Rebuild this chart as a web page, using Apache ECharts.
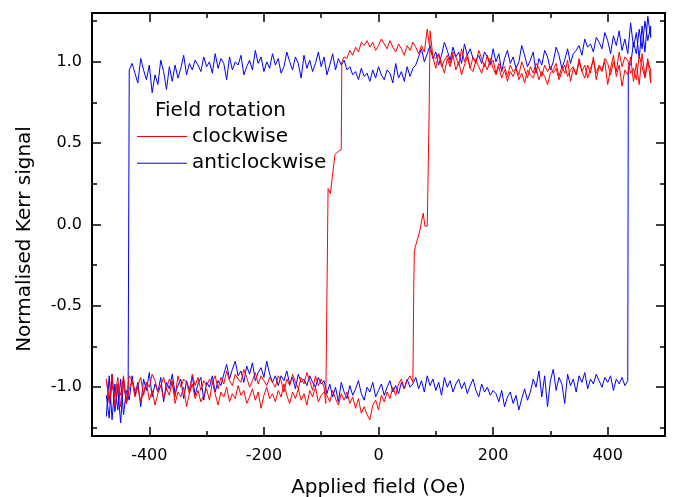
<!DOCTYPE html>
<html><head><meta charset="utf-8">
<script src="https://cdn.jsdelivr.net/npm/echarts@6/dist/echarts.min.js"></script>
<style>html,body{margin:0;padding:0;background:#fff}#c{width:673px;height:497px}</style>
</head><body><div id="c"></div>
<script>
// ---- Data ----
const fieldGrid = [
-475,-470,-465,-460,-455,-450,-445,-440,-435,-430,
-425,-420,-415,-410,-405,-400,-395,-390,-385,-380,
-375,-370,-365,-360,-355,-350,-345,-340,-335,-330,
-325,-320,-315,-310,-305,-300,-295,-290,-285,-280,
-275,-270,-265,-260,-255,-250,-245,-240,-235,-230,
-225,-220,-215,-210,-205,-200,-195,-190,-185,-180,
-175,-170,-165,-160,-155,-150,-145,-140,-135,-130,
-125,-120,-115,-110,-105,-100,-95,-90,-85,-80,
-75,-70,-65,-60,-55,-50,-45,-40,-35,-30,
-25,-20,-15,-10,-5,0,5,10,15,20,
25,30,35,40,45,50,55,60,65,70,
75,80,85,90,95,100,105,110,115,120,
125,130,135,140,145,150,155,160,165,170,
175,180,185,190,195,200,205,210,215,220,
225,230,235,240,245,250,255,260,265,270,
275,280,285,290,295,300,305,310,315,320,
325,330,335,340,345,350,355,360,365,370,
375,380,385,390,395,400,405,410,415,420,
425,430,435,440,445,450,455,460,465,470,
475];

// Anticlockwise (blue)
const blueLowerFwd = [ // field -475 -> 435
-1.18,-0.93,-1.20,-0.98,-1.14,-0.95,-1.17,-1.02,
-1.08,-0.93,-1.05,-0.97,-1.12,-0.95,-1.02,-0.91,-1.06,-0.98,-1.03,-0.94,-1.09,-0.97,-1.01,-0.92,-1.04,-0.99,-0.95,-1.07,-0.96,-1.02,-0.93,-1.05,-0.98,-0.94,-1.08,-0.97,-1.00,-0.93,-1.03,-0.96,-0.99,-0.92,
-0.86,-0.95,-0.89,-0.84,-0.93,-0.90,-0.97,-0.87,-0.92,-0.85,-0.96,-0.91,-0.88,-0.94,-0.84,-0.92,-0.97,-0.93,
-0.99,-0.93,-0.96,-0.90,-0.98,-0.94,-1.01,-0.92,-0.97,-0.95,-0.99,-0.93,-0.97,-1.00,-0.94,-0.98,-0.96,
-1.04,-0.98,-1.06,-1.00,-1.09,-0.97,-1.03,-1.07,-0.99,-1.05,-1.01,-0.96,-1.04,-1.08,-1.00,-1.03,-0.97,-1.06,-1.02,-0.98,-1.05,-1.00,-0.96,-1.03,-0.99,-1.04,-0.97,-1.01,-0.95,-1.00,
-0.98,-0.94,-1.01,-0.96,-1.03,-0.93,-0.99,-0.95,-1.02,-0.97,-1.05,-0.94,-1.00,-0.96,-1.03,-0.98,-0.95,-1.01,-0.97,-1.04,-0.99,-0.95,-1.02,-1.06,-0.98,-1.03,-1.00,-1.05,-1.02,
-1.04,-1.09,-1.02,-1.12,-1.06,-1.03,-1.10,-1.05,-1.14,-1.07,-1.01,-1.08,-1.03,
-0.95,-1.00,-0.90,-1.06,-0.93,-1.12,-0.96,-0.89,-1.02,-0.94,-0.98,-1.10,-0.92,-0.99,-0.95,-1.03,-0.93,-0.97,-0.91,-1.01,-0.95,-0.98,-0.92,-0.96,-1.00,-0.94,-0.97,-0.93,-1.02,-0.95,-0.98,-0.94,-0.99,-0.96];
const blueSwitchUpField = [436];
const blueSwitchUp = [0.97];
const blueUpperFwd = [0.98,1.12,1.05,1.20,1.08,1.25,1.13,1.22]; // field 440 -> 475
const blueUpperBack = [ // field 475 -> -435
1.15,1.28,1.06,1.22,1.02,1.18,1.09,1.24,1.05,
1.14,1.07,1.19,1.10,1.16,1.05,1.13,1.18,1.08,1.12,1.15,1.06,1.11,1.09,1.14,1.04,1.10,1.07,
1.05,0.99,1.08,1.01,0.96,1.04,1.09,1.00,0.95,1.03,1.07,0.98,1.02,0.93,1.06,1.01,0.97,1.04,1.10,1.00,0.96,1.03,0.99,1.07,1.02,0.94,1.05,1.00,1.08,0.98,1.03,1.06,0.99,1.04,1.01,
1.02,1.08,1.04,1.11,0.99,1.06,1.03,1.09,1.01,1.07,1.12,1.04,0.98,1.06,1.02,1.10,1.05,1.00,1.08,1.03,0.98,
0.96,0.91,0.97,0.88,0.94,0.90,0.99,0.87,0.93,0.95,0.89,0.92,0.97,
0.90,0.95,0.88,0.93,0.91,0.96,0.89,0.94,0.92,0.97,0.95,1.01,0.98,
1.02,0.95,1.05,0.98,0.92,1.03,0.97,1.06,0.99,0.94,1.01,0.96,1.04,0.90,0.99,1.03,0.95,1.00,1.06,0.97,
0.93,1.02,0.98,1.05,0.96,1.00,0.94,1.03,0.99,1.07,0.95,1.01,0.97,0.92,1.04,0.98,1.00,0.95,1.03,0.89,
0.99,1.02,0.96,1.05,0.93,1.00,0.97,1.03,0.94,0.98,1.01,0.95,0.99,0.92,1.04,0.96,0.90,0.98,
0.88,0.97,0.83,0.94,1.01,0.86,0.92,0.81,0.98,0.89,0.95,1.02,0.87,0.93,0.99,0.95];
const blueSwitchDownField = [-437];
const blueSwitchDown = [-1.05];
const blueLowerBack = [-1.10,-0.95,-1.22,-1.00,-1.15,-0.92,-1.19,-1.05]; // field -440 -> -475

// Clockwise (red)
const redLowerFwd = [ // field -475 -> 60
-0.95,-1.08,-0.92,-1.12,-0.98,-1.05,-0.93,-1.10,-1.01,-0.96,
-1.06,-1.00,-1.09,-1.03,-0.97,-1.08,-1.02,-1.11,-1.04,-0.99,
-1.07,-1.01,-1.05,-0.96,-1.10,-1.03,-1.06,-1.00,-1.12,-1.04,
-0.98,-1.07,-1.02,-1.09,-1.05,-1.01,-1.08,-0.97,-1.04,-1.11,
-1.03,-1.06,-1.00,-1.09,-1.04,-1.07,-0.99,-1.05,-1.02,-1.10,
-1.06,-1.01,-1.08,-1.03,-1.13,-1.05,-1.00,-1.07,-1.04,-1.09,
-1.02,-1.06,-0.98,-1.05,-1.10,-1.03,-1.07,-1.01,-1.08,-1.04,
-1.11,-1.02,-1.06,-1.00,-1.09,-1.05,-1.03,
-1.05,-1.09,-1.02,-1.07,-1.11,-1.04,-1.08,-1.03,-1.10,-1.06,
-1.13,-1.07,-1.16,-1.12,-1.17,-1.20,-1.11,-1.08,-1.14,-1.05,
-1.09,-1.03,-1.07,-1.00,-1.05,-0.98,-0.95,-1.01,-0.96,-0.93,-0.97];
const redSwitchUpField = [61.5,62.5,64,67,72,78,81,85,88,90];
const redSwitchUp = [-0.40,-0.17,-0.14,-0.13,-0.04,0.07,-0.01,-0.01,0.60,1.19];
const redUpperFwd = [ // field 95 -> 475
1.03,0.96,1.05,0.99,0.93,1.02,0.97,1.04,0.95,1.00,0.92,0.98,1.03,0.96,0.94,1.01,0.97,0.93,0.99,0.95,1.02,0.96,
0.92,0.97,0.90,0.95,0.88,0.94,0.91,0.96,0.89,0.93,0.87,0.95,0.92,0.90,0.96,0.89,0.94,0.91,0.86,0.93,
0.95,0.99,0.91,0.97,0.93,1.01,0.88,0.96,0.92,1.02,0.94,0.90,0.98,0.93,1.03,0.89,0.97,0.94,1.00,0.86,0.96,1.04,0.91,0.98,0.85,0.95,
0.92,1.03,0.88,0.99,0.86,1.05,0.91,1.02,0.87];
const redUpperBack = [ // field 475 -> -60
0.95,1.00,0.90,0.97,1.04,0.89,0.96,0.93,1.01,
1.03,0.97,1.06,0.94,1.00,0.92,0.99,1.02,0.95,0.98,0.93,1.01,0.96,0.90,0.98,0.94,1.00,0.92,0.97,0.95,0.91,0.98,0.94,0.89,0.96,0.93,0.97,
0.94,0.98,0.91,0.96,0.99,0.93,0.97,0.90,0.95,1.00,0.92,0.96,0.94,0.98,0.91,0.97,0.95,0.99,0.93,1.01,
0.98,1.04,0.97,1.02,1.07,0.99,1.03,0.96,1.05,1.00,1.08,0.98,1.03,1.06,0.99,1.04,1.01,0.97,1.05,1.02,
1.03,1.07,1.20,
1.06,1.10,1.05,1.09,1.12,1.07,1.10,1.04,1.08,1.11,
1.06,1.09,1.13,1.08,1.11,1.14,1.10,1.07,1.12,1.09,
1.13,1.10,1.12,1.06,1.09,1.04,1.07,1.02,1.03];
const redSwitchDownField = [-64,-65,-70,-76,-84,-88,-91,-92];
const redSwitchDown = [1.00,0.46,0.45,0.43,0.19,0.22,0.23,-1.10];
const redLowerBack = [ // field -95 -> -475
-1.00,-0.95,-0.99,-0.93,-1.02,-0.96,-0.91,-0.98,-0.94,-1.01,-0.97,-0.92,-0.99,-0.95,-1.03,-0.96,-0.93,-1.00,-0.97,-0.94,-0.99,-0.96,
-0.93,-0.98,-0.91,-0.96,-1.00,-0.94,-0.89,-0.97,-0.95,-0.92,-0.99,-0.96,-0.90,-0.98,-0.94,-1.01,-0.93,-0.97,-0.95,-0.99,
-0.96,-1.02,-0.94,-0.99,-0.92,-1.04,-0.97,-0.95,-1.00,-0.93,-1.06,-0.98,-0.95,-1.01,-0.94,-0.99,-1.03,-0.96,-0.92,-1.00,-0.97,-1.05,-0.94,-0.99,-1.02,-0.96,
-0.93,-1.08,-0.97,-1.12,-0.94,-1.06,-0.99,-1.10,-0.95];

const xMajorTicks = [-400,-200,0,200,400];
const xMinorTicks = [-300,-100,100,300];
const yMajorTicks = [-1,-0.5,0,0.5,1];
const yMinorTicks = [-1.25,-0.75,-0.25,0.25,0.75,1.25];

// ---- Build sweeps ----
function gridRun(startField, dir, values) {
  const i0 = fieldGrid.indexOf(startField);
  return values.map((v, i) => [fieldGrid[i0 + dir * i], v]);
}
function pairs(fields, values) { return values.map((v, i) => [fields[i], v]); }

const blueData = [].concat(
  gridRun(-475, 1, blueLowerFwd),
  pairs(blueSwitchUpField, blueSwitchUp),
  gridRun(440, 1, blueUpperFwd),
  gridRun(475, -1, blueUpperBack),
  pairs(blueSwitchDownField, blueSwitchDown),
  gridRun(-440, -1, blueLowerBack)
);
const redData = [].concat(
  gridRun(-475, 1, redLowerFwd),
  pairs(redSwitchUpField, redSwitchUp),
  gridRun(95, 1, redUpperFwd),
  gridRun(475, -1, redUpperBack),
  pairs(redSwitchDownField, redSwitchDown),
  gridRun(-95, -1, redLowerBack)
);

const FONT = 'DejaVu Sans';
const black = '#000';

function xAxisDef(pos, ticks, len, withLabels, withName) {
  return {
    type: 'value', position: pos, min: -500, max: 500,
    name: withName ? 'Applied field (Oe)' : '',
    nameLocation: 'middle', nameGap: 42,
    nameTextStyle: { fontFamily: FONT, fontSize: 20, color: black },
    axisLine: { show: true, onZero: false, lineStyle: { color: black, width: 2 } },
    axisTick: { show: true, inside: true, length: len, customValues: ticks, lineStyle: { color: black, width: 1.5 } },
    axisLabel: { show: withLabels, customValues: ticks, margin: 12, fontFamily: FONT, fontSize: 16, color: black },
    splitLine: { show: false }, minorTick: { show: false }
  };
}
function yAxisDef(pos, ticks, len, withLabels) {
  return {
    type: 'value', position: pos, min: -1.3, max: 1.3,
    axisLine: { show: true, onZero: false, lineStyle: { color: black, width: 2 } },
    axisTick: { show: true, inside: true, length: len, customValues: ticks, lineStyle: { color: black, width: 1.5 } },
    axisLabel: { show: withLabels, customValues: ticks, margin: 10, fontFamily: FONT, fontSize: 16, color: black,
      formatter: v => v.toFixed(1) },
    splitLine: { show: false }, minorTick: { show: false }
  };
}

const chart = echarts.init(document.getElementById('c'), null, { renderer: 'canvas' });
chart.setOption({
  animation: false,
  backgroundColor: '#fff',
  grid: { left: 92, right: 8, top: 13, bottom: 61, containLabel: false, outerBoundsMode: 'none' },
  xAxis: [
    xAxisDef('bottom', xMajorTicks, 9, true, true),
    xAxisDef('bottom', xMinorTicks, 5, false, false),
    xAxisDef('top', xMajorTicks, 9, false, false),
    xAxisDef('top', xMinorTicks, 5, false, false)
  ],
  yAxis: [
    yAxisDef('left', yMajorTicks, 9, true),
    yAxisDef('left', yMinorTicks, 5, false),
    yAxisDef('right', yMajorTicks, 9, false),
    yAxisDef('right', yMinorTicks, 5, false)
  ],
  legend: {
    data: ['clockwise', 'anticlockwise'],
    orient: 'vertical', left: 137, top: 126.5, padding: 0,
    icon: 'rect', itemWidth: 50, itemHeight: 1, itemGap: 6.7,
    textStyle: { fontFamily: FONT, fontSize: 20, color: black, lineHeight: 20 }
  },
  graphic: [
    { type: 'text', x: 155, y: 110.5, style: { text: 'Field rotation', fontFamily: FONT, fontSize: 20, fill: black, textVerticalAlign: 'middle' } },
    { type: 'text', x: 34.5, y: 239, rotation: Math.PI / 2,
      style: { text: 'Normalised Kerr signal', fontFamily: FONT, fontSize: 20, fill: black, textAlign: 'center', textVerticalAlign: 'bottom' } }
  ],
  series: [
    { name: 'anticlockwise', type: 'line', data: blueData, symbol: 'none', showSymbol: false,
      xAxisIndex: 0, yAxisIndex: 0, color: '#0000ff', lineStyle: { color: '#0000ff', width: 1 }, z: 2 },
    { name: 'clockwise', type: 'line', data: redData, symbol: 'none', showSymbol: false,
      xAxisIndex: 0, yAxisIndex: 0, color: '#ff0000', lineStyle: { color: '#ff0000', width: 1 }, z: 3 }
  ]
});
</script></body></html>
